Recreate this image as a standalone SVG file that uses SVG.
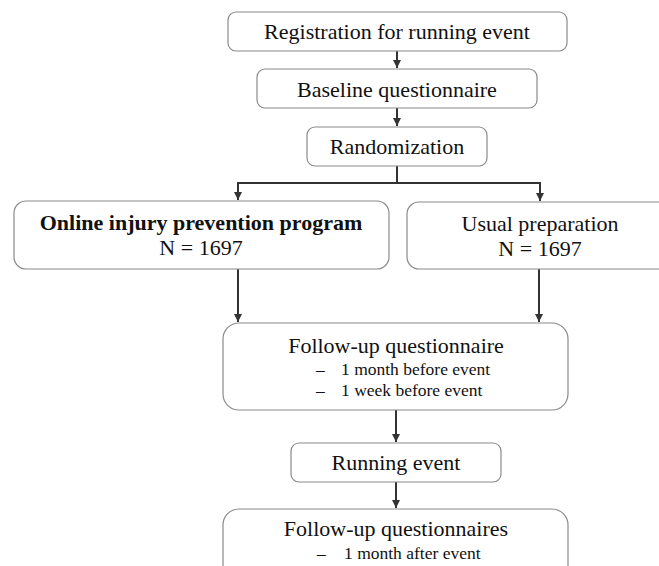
<svg xmlns="http://www.w3.org/2000/svg" width="659" height="566" viewBox="0 0 659 566">
<style>
.box{fill:#fff;stroke:#8a8a8a;stroke-width:1.2}
.t{font-family:"Liberation Serif","Times New Roman",serif;font-size:22px;fill:#111}
.c{text-anchor:middle}
.b{font-weight:bold}
.s{font-family:"Liberation Serif","Times New Roman",serif;font-size:17.5px;fill:#111}
.ln{fill:none;stroke:#333;stroke-width:2}
</style>
<defs>
<marker id="ah" viewBox="0 0 8 8" refX="8" refY="4" markerWidth="8" markerHeight="8" markerUnits="userSpaceOnUse" orient="auto">
<path d="M0,0 L8,4 L0,8 z" fill="#333"/>
</marker>
</defs>
<rect width="659" height="566" fill="#fff"/>
<g id="connectors">
<line class="ln" x1="397" y1="51" x2="397" y2="68" marker-end="url(#ah)"/>
<line class="ln" x1="397" y1="108" x2="397" y2="126" marker-end="url(#ah)"/>
<polyline class="ln" points="397,166 397,183"/>
<polyline class="ln" points="238,183 540,183"/>
<line class="ln" x1="238" y1="182" x2="238" y2="200" marker-end="url(#ah)"/>
<line class="ln" x1="540" y1="182" x2="540" y2="201" marker-end="url(#ah)"/>
<line class="ln" x1="238" y1="269" x2="238" y2="322" marker-end="url(#ah)"/>
<line class="ln" x1="539" y1="269" x2="539" y2="322" marker-end="url(#ah)"/>
<line class="ln" x1="396" y1="410" x2="396" y2="442" marker-end="url(#ah)"/>
<line class="ln" x1="396" y1="482" x2="396" y2="508" marker-end="url(#ah)"/>
</g>
<g id="registration">
<rect class="box" x="228" y="12" width="339" height="39" rx="8"/>
<text class="t c" x="397" y="39">Registration for running event</text>
</g>
<g id="baseline">
<rect class="box" x="257" y="69" width="280" height="39" rx="8"/>
<text class="t c" x="397" y="97">Baseline questionnaire</text>
</g>
<g id="randomization">
<rect class="box" x="307" y="127" width="180" height="39" rx="8"/>
<text class="t c" x="397" y="154">Randomization</text>
</g>
<g id="intervention">
<rect class="box" x="14" y="201" width="375" height="68" rx="12"/>
<text class="t c b" x="201" y="230">Online injury prevention program</text>
<text class="t c" x="201" y="255">N = 1697</text>
</g>
<g id="control">
<rect class="box" x="407" y="202" width="266" height="67" rx="12"/>
<text class="t c" x="540" y="231">Usual preparation</text>
<text class="t c" x="540" y="256">N = 1697</text>
</g>
<g id="followup1">
<rect class="box" x="223" y="323" width="345" height="87" rx="16"/>
<text class="t c" x="396" y="353">Follow-up questionnaire</text>
<text class="s" x="316" y="375">–</text>
<text class="s" x="341" y="375">1 month before event</text>
<text class="s" x="316" y="396">–</text>
<text class="s" x="341" y="396">1 week before event</text>
</g>
<g id="running">
<rect class="box" x="291" y="443" width="210" height="39" rx="8"/>
<text class="t c" x="396" y="470">Running event</text>
</g>
<g id="followup2">
<rect class="box" x="223" y="509" width="345" height="80" rx="16"/>
<text class="t c" x="396" y="536">Follow-up questionnaires</text>
<text class="s" x="317" y="559">–</text>
<text class="s" x="344" y="559">1 month after event</text>
</g>
</svg>
